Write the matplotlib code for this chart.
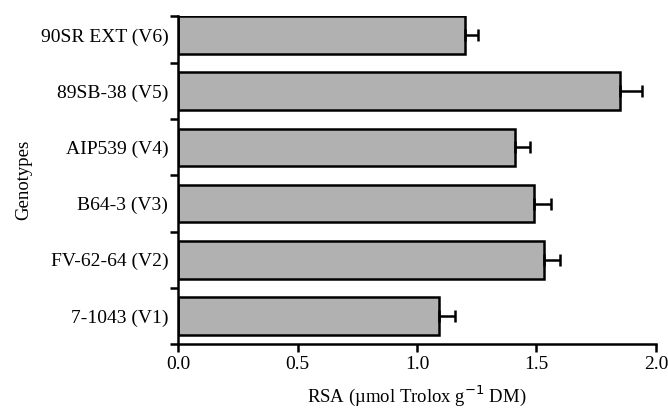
import matplotlib.pyplot as plt
import numpy as np

genotypes = ['7-1043 (V1)', 'FV-62-64 (V2)', 'B64-3 (V3)', 'AIP539 (V4)', '89SB-38 (V5)', '90SR EXT (V6)']
rsa = [1.09, 1.53, 1.49, 1.41, 1.85, 1.20]
err = [0.067, 0.07, 0.07, 0.063, 0.09, 0.055]

plt.rcParams['font.family'] = ['Liberation Serif', 'DejaVu Serif']

fig = plt.figure(figsize=(6.68, 4.09), dpi=100)
ax = fig.add_axes([0.2665, 0.159, 0.7155, 0.802])

y = np.arange(len(genotypes))
ax.barh(y, rsa, height=0.67, color='#b1b1b1', edgecolor='black', linewidth=1.8,
        xerr=[[0] * len(err), err],
        error_kw=dict(ecolor='black', elinewidth=1.8, capsize=4, capthick=1.8))

ax.set_xlim(0, 2.0)
ax.set_ylim(-0.5, 5.34)
ax.set_xticks([0, 0.5, 1.0, 1.5, 2.0])
ax.set_xticklabels(['0.0', '0.5', '1.0', '1.5', '2.0'], fontsize=14)
ax.set_yticks([-0.5, 0.5, 1.5, 2.5, 3.5, 4.5, 5.34])
ax.set_yticklabels([])
ax.set_yticks(y, minor=True)
ax.set_yticklabels(genotypes, minor=True, fontsize=14)
ax.tick_params(axis='y', which='minor', length=0, pad=7)
ax.tick_params(axis='y', which='major', length=6, width=1.8, direction='out')
ax.tick_params(axis='x', length=6, width=1.8, direction='out', pad=3)

for s in ['top', 'right']:
    ax.spines[s].set_visible(False)
for s in ['left', 'bottom']:
    ax.spines[s].set_linewidth(1.8)

ax.set_xlabel('RSA (µmol Trolox g$^{-1}$ DM)', fontsize=13.5, labelpad=7)
ax.set_ylabel('Genotypes', fontsize=13.5, labelpad=6)

fig.savefig('out.png', dpi=100)
